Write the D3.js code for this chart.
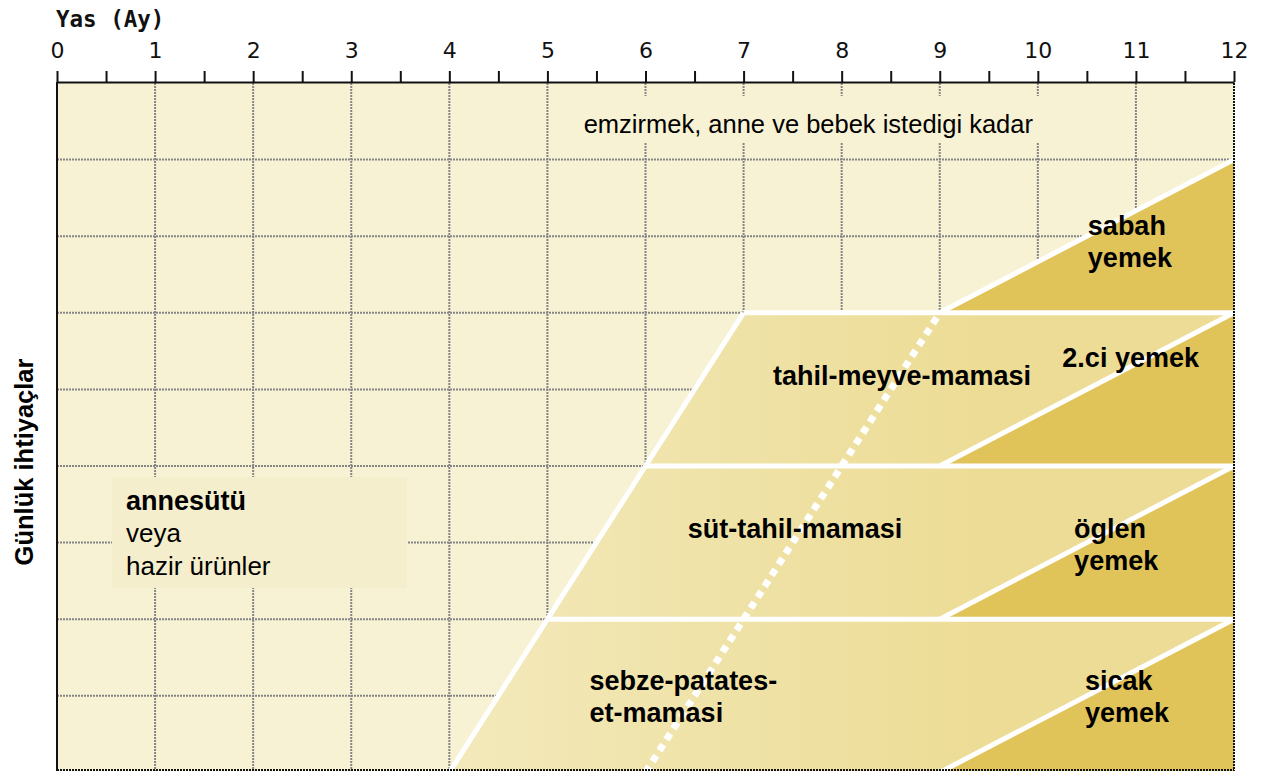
<!DOCTYPE html>
<html>
<head>
<meta charset="utf-8">
<script src="https://cdn.jsdelivr.net/npm/d3@7"></script>
<style>
  body { margin: 0; background: #fff; }
  svg { display: block; }
  .lbl { font-family: "Liberation Sans", Arial, sans-serif; fill: #000; }
</style>
</head>
<body>
<div id="chart"></div>
<script>
// month ticks on the top axis
const monthTicks = [0, 1, 2, 3, 4, 5, 6, 7, 8, 9, 10, 11, 12];
const halfTicks = [0.5, 1.5, 2.5, 3.5, 4.5, 5.5, 6.5, 7.5, 8.5, 9.5, 10.5, 11.5];
const gridMonths = [1, 2, 3, 4, 5, 6, 7, 8, 9, 10, 11];
const gridRows = [1, 2, 3, 4, 5, 6, 7, 8];

// food bands (parallelograms), rows counted from the top
const bandLabels = [["tahil-meyve-mamasi"], ["süt-tahil-mamasi"], ["sebze-patates-", "et-mamasi"]];
const bandTopRow = [3, 5, 7];
const bandBottomRow = [5, 7, 9];
const bandTopStart = [7, 6, 5];
const bandBottomStart = [6, 5, 4];

// meal triangles
const mealLabels = [["sabah", "yemek"], ["2.ci yemek"], ["öglen", "yemek"], ["sicak", "yemek"]];
const mealTopRow = [1, 3, 5, 7];
const mealBottomRow = [3, 5, 7, 9];
const mealStart = [9, 9, 9, 9];

const monthEnd = 12;
const dottedLine = [[6, 9], [9, 3]];

const W = 1274, H = 771;
const x = d3.scaleLinear().domain([0, 12]).range([57, 1234]);
const y = d3.scaleLinear().domain([0, 9]).range([83, 772.4]);

const svg = d3.select("#chart").append("svg")
  .attr("width", W)
  .attr("height", H);

const defs = svg.append("defs");
const grad = defs.append("linearGradient")
  .attr("id", "bandFill")
  .attr("gradientUnits", "userSpaceOnUse")
  .attr("x1", x(4)).attr("x2", x(9.5)).attr("y1", 0).attr("y2", 0);
grad.append("stop").attr("offset", 0).attr("stop-color", "#f3e9bb");
grad.append("stop").attr("offset", 1).attr("stop-color", "#ecdc95");

// background
svg.append("rect")
  .attr("x", x(0)).attr("y", y(0))
  .attr("width", x(12) - x(0)).attr("height", y(9) - y(0))
  .attr("fill", "#f8f2d4");

// grid
const grid = svg.append("g")
  .attr("stroke", "#858585")
  .attr("stroke-width", 2)
  .attr("stroke-dasharray", "2,1");
grid.selectAll(".v").data(gridMonths).join("line")
  .attr("x1", d => x(d)).attr("x2", d => x(d))
  .attr("y1", y(0)).attr("y2", y(9));
grid.selectAll(".h").data(gridRows).join("line")
  .attr("x1", x(0)).attr("x2", x(12))
  .attr("y1", d => y(d)).attr("y2", d => y(d));

// boxes behind the texts
svg.append("rect")
  .attr("x", x(5.3)).attr("y", y(0.17))
  .attr("width", x(10.08) - x(5.3)).attr("height", y(0.77) - y(0.17))
  .attr("fill", "#f8f2d4");
svg.append("rect")
  .attr("x", 112).attr("y", 477)
  .attr("width", 295).attr("height", 111)
  .attr("fill", "#f4eecc");

// bands
const bands = bandLabels.map((label, i) => ({
  label,
  top: bandTopRow[i], bottom: bandBottomRow[i],
  topStart: bandTopStart[i], bottomStart: bandBottomStart[i]
}));
svg.selectAll(".band").data(bands).join("path")
  .attr("class", "band")
  .attr("fill", "url(#bandFill)")
  .attr("d", d => d3.line()([
    [x(d.topStart), y(d.top)], [x(monthEnd), y(d.top)],
    [x(monthEnd), y(d.bottom)], [x(d.bottomStart), y(d.bottom)]
  ]) + "Z");

// meals
const meals = mealLabels.map((label, i) => ({
  label, top: mealTopRow[i], bottom: mealBottomRow[i], start: mealStart[i]
}));
svg.selectAll(".meal").data(meals).join("path")
  .attr("class", "meal")
  .attr("fill", "#e0c45a")
  .attr("d", d => d3.line()([
    [x(d.start), y(d.bottom)], [x(monthEnd), y(d.top)], [x(monthEnd), y(d.bottom)]
  ]) + "Z");

// white edges
const white = svg.append("g").attr("stroke", "#fff").attr("stroke-width", 5).attr("stroke-linecap", "butt");
white.selectAll(".top").data(bands).join("line")
  .attr("x1", d => x(d.topStart)).attr("x2", x(monthEnd))
  .attr("y1", d => y(d.top)).attr("y2", d => y(d.top));
white.selectAll(".left").data(bands).join("line")
  .attr("x1", d => x(d.topStart)).attr("y1", d => y(d.top))
  .attr("x2", d => x(d.bottomStart)).attr("y2", d => y(d.bottom));
white.selectAll(".hyp").data(meals).join("line")
  .attr("x1", d => x(d.start)).attr("y1", d => y(d.bottom))
  .attr("x2", x(monthEnd)).attr("y2", d => y(d.top));

svg.append("line")
  .attr("x1", x(dottedLine[0][0])).attr("y1", y(dottedLine[0][1]))
  .attr("x2", x(dottedLine[1][0])).attr("y2", y(dottedLine[1][1]))
  .attr("stroke", "#fff").attr("stroke-width", 7)
  .attr("stroke-dasharray", "7,6");

// labels
function lines(g, arr, lx, ly, weight, size) {
  const t = g.append("text").attr("class", "lbl")
    .attr("x", lx).attr("y", ly)
    .attr("font-weight", weight).attr("font-size", size);
  arr.forEach((s, i) => t.append("tspan").attr("x", lx).attr("dy", i ? 32 : 0).text(s));
  return t;
}
const labels = svg.append("g");
labels.append("text").attr("class", "lbl")
  .attr("x", x(7.66)).attr("y", y(0.65))
  .attr("text-anchor", "middle")
  .attr("font-size", 25.5)
  .text("emzirmek, anne ve bebek istedigi kadar");

const bandPos = [[7.3, 3.94], [6.43, 5.94], [5.43, 7.92]];
bands.forEach((d, i) => lines(labels, d.label, x(bandPos[i][0]), y(bandPos[i][1]), "bold", 27));
const mealPos = [[10.51, 1.99], [10.25, 3.71], [10.37, 5.94], [10.48, 7.92]];
meals.forEach((d, i) => lines(labels, d.label, x(mealPos[i][0]), y(mealPos[i][1]), "bold", 27));

lines(labels, ["annesütü"], 126, 510, "bold", 27);
lines(labels, ["veya", "hazir ürünler"], 126, 542, "normal", 26).selectAll("tspan").attr("dy", (d, i) => i ? 33 : 0);

svg.append("text").attr("class", "lbl")
  .attr("transform", `translate(33,462) rotate(-90)`)
  .attr("text-anchor", "middle")
  .attr("font-weight", "bold")
  .attr("font-size", 25.5)
  .text("Günlük ihtiyaçlar");

// borders
svg.append("line")
  .attr("x1", x(0)).attr("x2", x(0)).attr("y1", y(0) - 1).attr("y2", H)
  .attr("stroke", "#111").attr("stroke-width", 2);
svg.append("line")
  .attr("x1", x(12)).attr("x2", x(12)).attr("y1", y(0)).attr("y2", H)
  .attr("stroke", "#111").attr("stroke-width", 2).attr("stroke-dasharray", "2,1");
svg.append("line")
  .attr("x1", x(0)).attr("x2", x(12)).attr("y1", 770).attr("y2", 770)
  .attr("stroke", "#111").attr("stroke-width", 2).attr("stroke-dasharray", "2,1");

// top axis
const axisG = svg.append("g").attr("transform", "translate(0,82)");
axisG.call(d3.axisTop(x).tickValues(monthTicks).tickSize(11).tickSizeOuter(0).tickPadding(13));
axisG.append("g").call(d3.axisTop(x).tickValues(halfTicks).tickSize(11).tickFormat(""))
  .select(".domain").remove();
axisG.selectAll("path, line").attr("stroke", "#111").attr("stroke-width", 2);
axisG.selectAll("text")
  .attr("font-family", "DejaVu Sans, Verdana, sans-serif")
  .attr("font-size", 22)
  .attr("fill", "#111");

svg.append("text")
  .attr("x", 56).attr("y", 27)
  .attr("font-family", "DejaVu Sans Mono, monospace")
  .attr("font-weight", "bold")
  .attr("font-size", 22.5)
  .attr("fill", "#111")
  .text("Yas (Ay)");
</script>
</body>
</html>
